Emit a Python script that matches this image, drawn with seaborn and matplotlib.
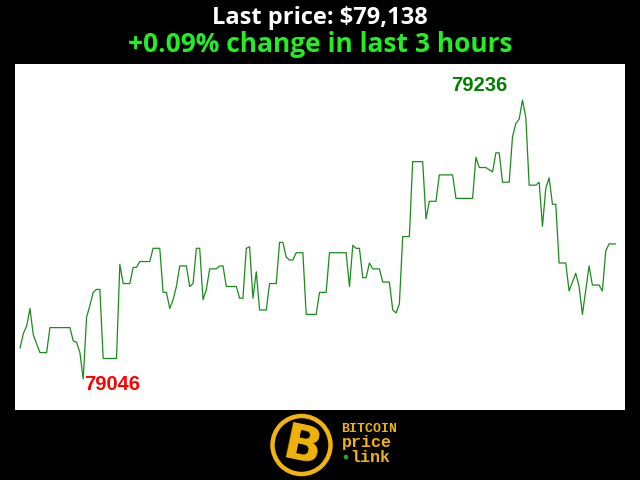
import matplotlib
matplotlib.use("Agg")
import matplotlib.pyplot as plt
from matplotlib.patches import Circle
import pandas as pd
import seaborn as sns

# price over the last 3 hours, one vertex per turning point (minute index, USD)
minutes = [0, 1, 2, 3, 4, 6, 8, 9, 15, 16, 17, 18, 19, 20, 21, 22, 23, 24, 25, 29,
           30, 31, 33, 34, 35, 36, 39, 40, 42, 43, 44, 45, 46, 47, 48, 50, 51, 52, 53, 54,
           55, 56, 57, 59, 60, 61, 62, 65, 66, 67, 68, 69, 70, 71, 72, 74, 75, 77, 78, 79,
           80, 81, 82, 83, 85, 86, 89, 90, 92, 93, 98, 99, 100, 101, 102, 103, 104, 105, 106, 108,
           109, 111, 112, 113, 114, 115, 117, 118, 121, 122, 123, 125, 126, 130, 131, 136, 137, 138, 140, 142,
           143, 144, 145, 147, 148, 149, 150, 151, 152, 153, 155, 156, 157, 158, 159, 160, 161, 162, 164, 165,
           167, 168, 169, 171, 172, 174, 175, 176, 177, 179]
prices = [79067, 79077, 79082, 79094, 79076, 79064, 79064, 79081, 79081, 79072,
          79071, 79064, 79046, 79088, 79096, 79105, 79107, 79107, 79060, 79060,
          79124, 79111, 79111, 79122, 79122, 79126, 79126, 79135, 79135, 79105,
          79105, 79094, 79100, 79109, 79123, 79123, 79109, 79111, 79135, 79135,
          79100, 79107, 79121, 79121, 79123, 79123, 79109, 79109, 79101, 79101,
          79135, 79136, 79101, 79119, 79093, 79093, 79111, 79111, 79139, 79139,
          79129, 79127, 79127, 79132, 79132, 79090, 79090, 79105, 79105, 79132,
          79132, 79109, 79137, 79135, 79135, 79115, 79115, 79125, 79121, 79121,
          79112, 79112, 79093, 79091, 79097, 79143, 79143, 79194, 79194, 79155,
          79167, 79167, 79185, 79185, 79169, 79169, 79197, 79190, 79190, 79187,
          79200, 79200, 79180, 79180, 79211, 79220, 79223, 79236, 79224, 79178,
          79178, 79180, 79150, 79176, 79183, 79165, 79165, 79125, 79125, 79106,
          79118, 79109, 79090, 79123, 79110, 79110, 79106, 79133, 79138, 79138]

last_price = "$79,138"
change_pct = "+0.09%"

df = pd.DataFrame({"minute": minutes, "price": prices})

sns.set_style("white")
plt.rcParams['font.family'] = ['DejaVu Sans']

fig = plt.figure(figsize=(6.4, 4.8), dpi=100, facecolor="black")
ax = fig.add_axes([15 / 640, 70 / 480, 610 / 640, 346 / 480])
ax.set_facecolor("white")

sns.lineplot(data=df, x="minute", y="price", color="#1a8c1a", linewidth=0.9, ax=ax)

ax.set_xlim(-1.5, 181.8)
ax.set_ylim(79024.9, 79260.5)
ax.set_xticks([])
ax.set_yticks([])
ax.set_xlabel("")
ax.set_ylabel("")
for s in ax.spines.values():
    s.set_visible(False)

# high / low labels
hi = df.loc[df["price"].idxmax()]
lo = df.loc[df["price"].idxmin()]
ax.annotate(f"{int(hi['price'])}", (hi["minute"], hi["price"]), xytext=(-15, 9),
            textcoords="offset pixels", ha="right", va="baseline",
            color="#008000", fontsize=14.5, fontweight="bold", family="Liberation Sans")
ax.annotate(f"{int(lo['price'])}", (lo["minute"], lo["price"]), xytext=(1, -11),
            textcoords="offset pixels", ha="left", va="baseline",
            color="#ff0000", fontsize=14.5, fontweight="bold", family="Liberation Sans")

# header
fig.text(0.5, (480 - 24) / 480, f"Last price: {last_price}", ha="center", va="baseline",
         color="white", fontsize=17, fontweight="bold", family="Open Sans")
fig.text(0.5, (480 - 52) / 480, f"{change_pct} change in last 3 hours", ha="center", va="baseline",
         color="#22ee22", fontsize=19, fontweight="bold", family="Open Sans")

# logo
gold = "#f2b40a"
lax = fig.add_axes([0, 0, 1, 70 / 480])
lax.set_xlim(0, 640)
lax.set_ylim(480, 410)
lax.axis("off")
lax.add_patch(Circle((301.5, 445), 29, fill=False, lw=3.2, ec=gold))
lax.text(302, 447, "B", ha="center", va="center", color=gold, fontsize=36,
         fontweight="bold", family="DejaVu Sans", rotation=-12)
lax.text(341.5, 429, "BITCOIN", ha="left", va="center", color=gold, fontsize=9.5,
         fontweight="bold", family="Liberation Mono")
lax.text(341.5, 442, "price", ha="left", va="center", color=gold, fontsize=12,
         fontweight="bold", family="Liberation Mono")
lax.text(350.5, 457, "link", ha="left", va="center", color=gold, fontsize=12,
         fontweight="bold", family="Liberation Mono")
lax.add_patch(Circle((346, 457), 1.6, color="#22aa22"))

fig.savefig("out.png", dpi=100, facecolor="black")
